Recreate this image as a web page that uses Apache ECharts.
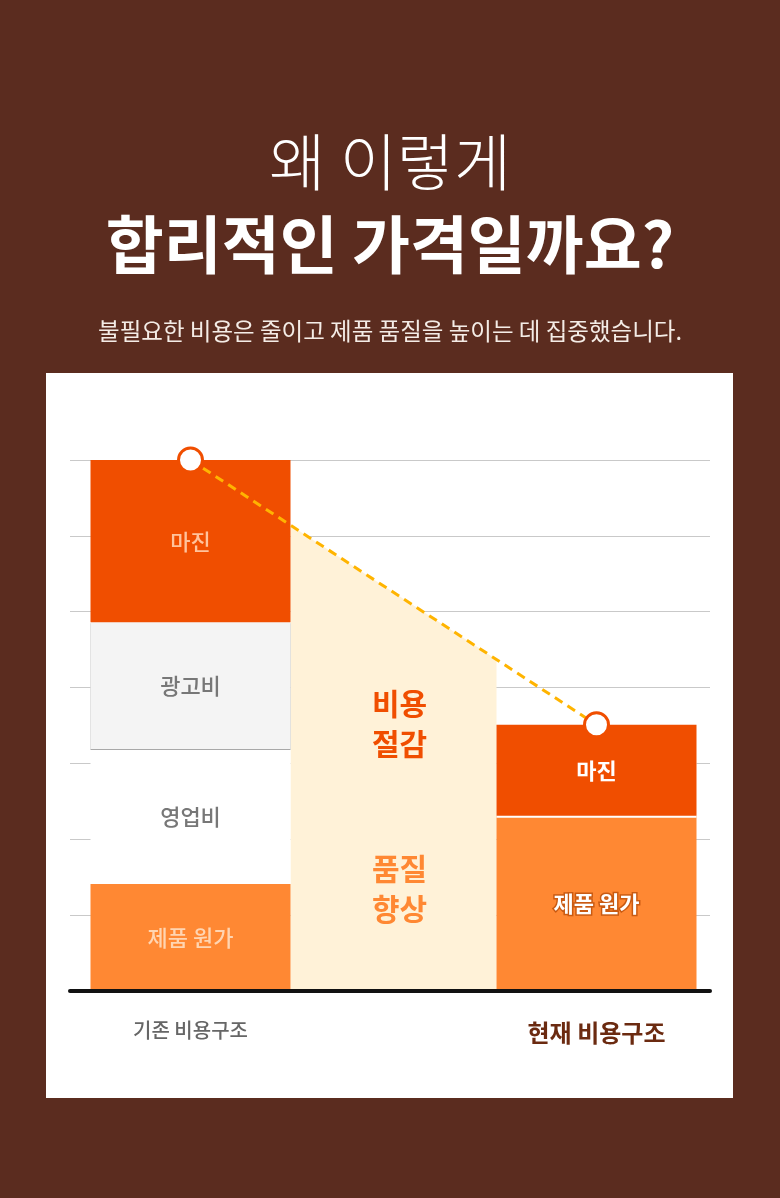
<!DOCTYPE html>
<html lang="ko">
<head>
<meta charset="utf-8">
<title>왜 이렇게 합리적인 가격일까요?</title>
<script src="https://cdn.jsdelivr.net/npm/echarts@6/dist/echarts.min.js"></script>
<style>
  html, body { margin: 0; padding: 0; background: #5b2c1f; }
  #chart { width: 780px; height: 1198px; }
</style>
</head>
<body>
<div id="chart"></div>
<script>
// 카테고리 (가운데는 비어 있는 구간)
const categories = ['기존 비용구조', '', '현재 비용구조']

// 비용 구성 (아래에서 위 순서로 쌓임)
const productCost = [1.41, '-', 2.31]
const salesCost = [1.78, '-', '-']
const adCost = [1.67, '-', '-']
const margin = [2.14, '-', 1.2]

// 가운데 문구와 위치 값
const middleTexts = ['비용\n절감', '품질\n향상']
const middleTextValues = [3.53, 1.35]

const FONT = '"Noto Sans CJK KR", "Noto Sans", sans-serif'
const BAR_W = 200
const C_MARGIN = '#f04e00'
const C_PRODUCT = '#ff8833'

function total(i) {
  return [productCost, salesCost, adCost, margin]
    .map((s) => (typeof s[i] === 'number' ? s[i] : 0))
    .reduce((a, b) => a + b, 0)
}
const oldTotal = total(0)
const newTotal = total(2)

const chart = echarts.init(document.getElementById('chart'))

/**
 * 비용 절감 영역 (두 막대 사이의 크림색 다각형) + 가운데 문구
 */
function renderSaving(params, api) {
  const p0 = api.coord([0, oldTotal])
  const p1 = api.coord([2, newTotal])
  const base = api.coord([0, 0])[1]
  const xl = p0[0] + BAR_W / 2
  const xr = p1[0] - BAR_W / 2
  const yAt = (x) => p0[1] + (p1[1] - p0[1]) * (x - p0[0]) / (p1[0] - p0[0])
  const cx = api.coord([1, 0])[0] + 6
  const colors = [C_MARGIN, C_PRODUCT]
  return {
    type: 'group',
    children: [
      {
        type: 'polygon',
        shape: { points: [[xl, yAt(xl)], [xr, yAt(xr)], [xr, base], [xl, base]] },
        style: { fill: '#fff2d8' },
      },
      ...middleTexts.map((t, i) => ({
        type: 'text',
        style: {
          text: t,
          x: cx,
          y: api.coord([1, middleTextValues[i]])[1],
          align: 'center',
          verticalAlign: 'middle',
          fill: colors[i],
          fontFamily: FONT,
          fontSize: 30,
          fontWeight: 'bold',
          lineHeight: 40,
        },
      })),
    ],
  }
}

const barLabel = (color, weight) => ({
  show: true,
  position: 'inside',
  formatter: '{a}',
  color,
  fontFamily: FONT,
  fontSize: 22,
  fontWeight: weight,
})

chart.setOption({
  backgroundColor: '#5b2c1f',
  animation: false,
  title: [
    {
      text: '왜 이렇게',
      left: 'center',
      top: 126,
      textStyle: { color: '#fff', fontFamily: FONT, fontSize: 62, fontWeight: 300 },
    },
    {
      text: '합리적인 가격일까요?',
      left: 'center',
      top: 208,
      textStyle: { color: '#fff', fontFamily: FONT, fontSize: 63, fontWeight: 'bold' },
    },
    {
      text: '불필요한 비용은 줄이고 제품 품질을 높이는 데 집중했습니다.',
      left: 'center',
      top: 314,
      textStyle: { color: '#f4ece6', fontFamily: FONT, fontSize: 23.5, fontWeight: 'normal' },
    },
  ],
  graphic: [
    {
      type: 'rect',
      z: -1,
      shape: { x: 46, y: 373, width: 687, height: 725 },
      style: { fill: '#ffffff' },
    },
  ],
  grid: [
    // 가로 눈금선 / 기준선
    { left: 70, right: 70, top: 460, bottom: 207 },
    // 막대
    { left: 89, right: 82, top: 460, bottom: 207 },
  ],
  xAxis: [
    {
      gridIndex: 0,
      type: 'value',
      min: 0,
      max: 1,
      z: 5,
      axisLine: { show: true, lineStyle: { color: '#111', width: 4 } },
      axisTick: { show: false },
      axisLabel: { show: false },
      splitLine: { show: false },
    },
    {
      gridIndex: 1,
      type: 'category',
      data: categories,
      axisLine: { show: false },
      axisTick: { show: false },
      axisLabel: {
        interval: 0,
        margin: 29,
        formatter: (v, i) => (i === 0 ? `{old|${v}}` : i === 2 ? `{now|${v}}` : ''),
        rich: {
          old: { color: '#666', fontFamily: FONT, fontSize: 20, lineHeight: 21, fontWeight: 500 },
          now: { color: '#6b2a10', fontFamily: FONT, fontSize: 24, lineHeight: 25, fontWeight: 'bold' },
        },
      },
    },
  ],
  yAxis: [
    {
      gridIndex: 0,
      type: 'value',
      min: 0,
      max: 7,
      interval: 1,
      axisLine: { show: false },
      axisTick: { show: false },
      axisLabel: { show: false },
      splitLine: { lineStyle: { color: '#c9c9c9', width: 1 } },
    },
    {
      gridIndex: 1,
      type: 'value',
      min: 0,
      max: 7,
      interval: 1,
      show: false,
    },
  ],
  series: [
    {
      name: '비용 절감',
      type: 'custom',
      xAxisIndex: 1,
      yAxisIndex: 1,
      z: 1,
      data: [[1, 0]],
      renderItem: renderSaving,
    },
    {
      name: '제품 원가',
      type: 'bar',
      stack: 'cost',
      xAxisIndex: 1,
      yAxisIndex: 1,
      barWidth: BAR_W,
      itemStyle: { color: C_PRODUCT },
      label: barLabel('#ffd5b2', 500),
      data: productCost.map((v, i) =>
        i === 2
          ? {
              value: v,
              label: {
                color: '#fff',
                fontWeight: 'bold',
                textBorderColor: '#c95a12',
                textBorderWidth: 3,
              },
            }
          : v
      ),
    },
    {
      name: '영업비',
      type: 'bar',
      stack: 'cost',
      xAxisIndex: 1,
      yAxisIndex: 1,
      barWidth: BAR_W,
      itemStyle: { color: '#ffffff' },
      label: barLabel('#777', 500),
      data: salesCost,
    },
    {
      name: '광고비',
      type: 'bar',
      stack: 'cost',
      xAxisIndex: 1,
      yAxisIndex: 1,
      barWidth: BAR_W,
      itemStyle: { color: '#f4f4f4', shadowColor: '#a8a8a8', shadowOffsetY: 1, shadowBlur: 0 },
      label: barLabel('#777', 500),
      data: adCost,
    },
    {
      name: '마진',
      type: 'bar',
      stack: 'cost',
      xAxisIndex: 1,
      yAxisIndex: 1,
      barWidth: BAR_W,
      itemStyle: { color: C_MARGIN },
      label: barLabel('#ffc39c', 500),
      data: margin.map((v, i) =>
        i === 2
          ? {
              value: v,
              itemStyle: { shadowColor: '#fff', shadowOffsetY: 2, shadowBlur: 0 },
              label: { color: '#fff', fontWeight: 'bold' },
            }
          : v
      ),
    },
    {
      name: '가격 변화',
      type: 'line',
      xAxisIndex: 1,
      yAxisIndex: 1,
      z: 4,
      data: [[0, oldTotal], [2, newTotal]],
      symbol: 'circle',
      symbolSize: 24,
      itemStyle: { color: '#fff', borderColor: C_MARGIN, borderWidth: 3 },
      lineStyle: { color: '#ffb400', width: 3, type: [9, 6] },
    },
  ],
})
</script>
</body>
</html>
